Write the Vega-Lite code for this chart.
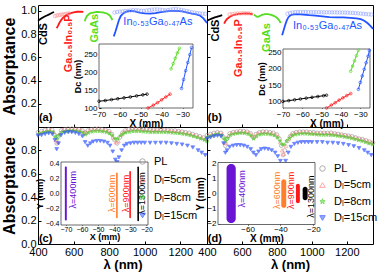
{
"$schema":"https://vega.github.io/schema/vega-lite/v6.json",
"padding":{"left":1,"top":4,"right":0,"bottom":0},
"columns":2,
"spacing":0,
"align":"each",
"bounds":"flush",
"config":{
 "font":"Liberation Sans, Noto Sans, DejaVu Sans",
 "view":{"stroke":"#000","strokeWidth":1},
 "axis":{"grid":false,"domain":false,"tickColor":"#000","labelColor":"#000","titleColor":"#000","labelFlush":false,"titleFontWeight":"bold","labelFont":"Liberation Sans, Noto Sans, DejaVu Sans","titleFont":"Liberation Sans, Noto Sans, DejaVu Sans"},
 "legend":{"labelFont":"Liberation Sans, Noto Sans, DejaVu Sans","labelFontSize":11,"labelColor":"#000"},
 "text":{"font":"Liberation Sans, Noto Sans, DejaVu Sans"}
},
"resolve":{"scale":{"color":"independent","fill":"independent","stroke":"independent","shape":"independent"}},
"datasets":{
 "topA":[
  {"m":"CdS","x":400,"y":0.915},{"m":"CdS","x":410,"y":0.925},{"m":"CdS","x":420,"y":0.935},{"m":"CdS","x":430,"y":0.945},{"m":"CdS","x":440,"y":0.953},{"m":"CdS","x":450,"y":0.96},{"m":"CdS","x":460,"y":0.967},{"m":"CdS","x":470,"y":0.975},{"m":"CdS","x":480,"y":0.983},{"m":"CdS","x":490,"y":0.99},
  {"m":"GaInP","x":505,"y":0.85},{"m":"GaInP","x":512,"y":0.87},{"m":"GaInP","x":520,"y":0.895},{"m":"GaInP","x":530,"y":0.92},{"m":"GaInP","x":540,"y":0.94},{"m":"GaInP","x":552,"y":0.955},{"m":"GaInP","x":565,"y":0.968},{"m":"GaInP","x":580,"y":0.978},{"m":"GaInP","x":600,"y":0.987},{"m":"GaInP","x":620,"y":0.992},{"m":"GaInP","x":640,"y":0.993},{"m":"GaInP","x":655,"y":0.99},
  {"m":"GaAs","x":663,"y":0.91},{"m":"GaAs","x":668,"y":0.935},{"m":"GaAs","x":675,"y":0.955},{"m":"GaAs","x":685,"y":0.97},{"m":"GaAs","x":695,"y":0.98},{"m":"GaAs","x":710,"y":0.985},{"m":"GaAs","x":730,"y":0.99},{"m":"GaAs","x":750,"y":0.988},{"m":"GaAs","x":770,"y":0.985},{"m":"GaAs","x":790,"y":0.975},{"m":"GaAs","x":803,"y":0.96},{"m":"GaAs","x":812,"y":0.94},{"m":"GaAs","x":818,"y":0.92},
  {"m":"InGaAs","x":826,"y":0.78},{"m":"InGaAs","x":835,"y":0.82},{"m":"InGaAs","x":845,"y":0.87},{"m":"InGaAs","x":855,"y":0.92},{"m":"InGaAs","x":865,"y":0.955},{"m":"InGaAs","x":880,"y":0.98},{"m":"InGaAs","x":900,"y":0.995},{"m":"InGaAs","x":920,"y":1.0},{"m":"InGaAs","x":945,"y":0.995},{"m":"InGaAs","x":970,"y":0.985},{"m":"InGaAs","x":1000,"y":0.978},{"m":"InGaAs","x":1030,"y":0.975},{"m":"InGaAs","x":1060,"y":0.98},{"m":"InGaAs","x":1090,"y":0.988},{"m":"InGaAs","x":1120,"y":0.995},{"m":"InGaAs","x":1150,"y":1.0},{"m":"InGaAs","x":1180,"y":1.0},{"m":"InGaAs","x":1210,"y":0.995},{"m":"InGaAs","x":1240,"y":0.985},{"m":"InGaAs","x":1265,"y":0.975},{"m":"InGaAs","x":1290,"y":0.97},{"m":"InGaAs","x":1310,"y":0.96},{"m":"InGaAs","x":1330,"y":0.935},{"m":"InGaAs","x":1350,"y":0.895}
 ],
 "topAc":[
  {"m":"GaInPc","x":495,"y":0.955},{"m":"GaInPc","x":505,"y":0.96},{"m":"GaInPc","x":515,"y":0.962},{"m":"GaInPc","x":525,"y":0.965},{"m":"GaInPc","x":535,"y":0.968},{"m":"GaInPc","x":545,"y":0.97},{"m":"GaInPc","x":555,"y":0.972},{"m":"GaInPc","x":565,"y":0.975},{"m":"GaInPc","x":575,"y":0.977},
  {"m":"InGaAsc","x":830,"y":0.985},{"m":"InGaAsc","x":845,"y":0.99},{"m":"InGaAsc","x":860,"y":0.993},{"m":"InGaAsc","x":875,"y":0.995},{"m":"InGaAsc","x":890,"y":0.998},{"m":"InGaAsc","x":905,"y":1.0},{"m":"InGaAsc","x":920,"y":1.003},{"m":"InGaAsc","x":935,"y":1.005},{"m":"InGaAsc","x":950,"y":1.005},{"m":"InGaAsc","x":965,"y":1.003},{"m":"InGaAsc","x":980,"y":1.0},{"m":"InGaAsc","x":995,"y":1.0},{"m":"InGaAsc","x":1010,"y":1.003},{"m":"InGaAsc","x":1025,"y":1.006},{"m":"InGaAsc","x":1040,"y":1.01},{"m":"InGaAsc","x":1055,"y":1.012},{"m":"InGaAsc","x":1070,"y":1.012},{"m":"InGaAsc","x":1085,"y":1.01},{"m":"InGaAsc","x":1100,"y":1.006},{"m":"InGaAsc","x":1115,"y":1.004},{"m":"InGaAsc","x":1130,"y":1.006},{"m":"InGaAsc","x":1145,"y":1.01},{"m":"InGaAsc","x":1160,"y":1.014},{"m":"InGaAsc","x":1175,"y":1.015},{"m":"InGaAsc","x":1190,"y":1.012},{"m":"InGaAsc","x":1205,"y":1.008},{"m":"InGaAsc","x":1220,"y":1.003},{"m":"InGaAsc","x":1235,"y":0.998},{"m":"InGaAsc","x":1250,"y":0.993},{"m":"InGaAsc","x":1265,"y":0.988},{"m":"InGaAsc","x":1280,"y":0.984},{"m":"InGaAsc","x":1295,"y":0.98},{"m":"InGaAsc","x":1310,"y":0.978},{"m":"InGaAsc","x":1325,"y":0.976},{"m":"InGaAsc","x":1340,"y":0.974}
 ],
 "labA":[
  {"m":"CdS","t":"CdS","x":434,"y":0.8},{"m":"GaInP","t":"Ga₀.₅In₀.₅P","x":577,"y":0.72},{"m":"GaAs","t":"GaAs","x":720,"y":0.85},{"m":"InGaAs","t":"In₀.₅₃Ga₀.₄₇As","x":1074,"y":0.9}
 ],
 "topB":[
  {"m":"CdS","x":400,"y":0.915},{"m":"CdS","x":415,"y":0.925},{"m":"CdS","x":430,"y":0.935},{"m":"CdS","x":445,"y":0.943},{"m":"CdS","x":460,"y":0.95},{"m":"CdS","x":475,"y":0.957},{"m":"CdS","x":487,"y":0.962},
  {"m":"GaInP","x":498,"y":0.89},{"m":"GaInP","x":505,"y":0.91},{"m":"GaInP","x":515,"y":0.93},{"m":"GaInP","x":527,"y":0.945},{"m":"GaInP","x":540,"y":0.957},{"m":"GaInP","x":555,"y":0.966},{"m":"GaInP","x":575,"y":0.972},{"m":"GaInP","x":600,"y":0.976},{"m":"GaInP","x":625,"y":0.977},{"m":"GaInP","x":645,"y":0.975},{"m":"GaInP","x":662,"y":0.97},
  {"m":"GaAs","x":668,"y":0.965},{"m":"GaAs","x":676,"y":0.96},{"m":"GaAs","x":685,"y":0.95},{"m":"GaAs","x":693,"y":0.948},{"m":"GaAs","x":702,"y":0.955},{"m":"GaAs","x":715,"y":0.965},{"m":"GaAs","x":732,"y":0.972},{"m":"GaAs","x":750,"y":0.972},{"m":"GaAs","x":768,"y":0.965},{"m":"GaAs","x":785,"y":0.955},{"m":"GaAs","x":800,"y":0.94},{"m":"GaAs","x":812,"y":0.92},{"m":"GaAs","x":822,"y":0.895},
  {"m":"InGaAs","x":830,"y":0.79},{"m":"InGaAs","x":838,"y":0.83},{"m":"InGaAs","x":847,"y":0.875},{"m":"InGaAs","x":856,"y":0.915},{"m":"InGaAs","x":866,"y":0.945},{"m":"InGaAs","x":878,"y":0.962},{"m":"InGaAs","x":895,"y":0.97},{"m":"InGaAs","x":920,"y":0.972},{"m":"InGaAs","x":950,"y":0.968},{"m":"InGaAs","x":985,"y":0.962},{"m":"InGaAs","x":1020,"y":0.958},{"m":"InGaAs","x":1060,"y":0.952},{"m":"InGaAs","x":1100,"y":0.946},{"m":"InGaAs","x":1140,"y":0.944},{"m":"InGaAs","x":1180,"y":0.944},{"m":"InGaAs","x":1220,"y":0.94},{"m":"InGaAs","x":1255,"y":0.935},{"m":"InGaAs","x":1280,"y":0.928},{"m":"InGaAs","x":1300,"y":0.915},{"m":"InGaAs","x":1318,"y":0.895},{"m":"InGaAs","x":1335,"y":0.87},{"m":"InGaAs","x":1350,"y":0.845}
 ],
 "topBc":[
  {"m":"GaInPc","x":530,"y":0.97},{"m":"GaInPc","x":545,"y":0.973},{"m":"GaInPc","x":560,"y":0.975},{"m":"GaInPc","x":575,"y":0.977},{"m":"GaInPc","x":590,"y":0.978},{"m":"GaInPc","x":605,"y":0.979},{"m":"GaInPc","x":620,"y":0.979},{"m":"GaInPc","x":635,"y":0.978},{"m":"GaInPc","x":650,"y":0.976},
  {"m":"InGaAsc","x":860,"y":0.975},{"m":"InGaAsc","x":875,"y":0.982},{"m":"InGaAsc","x":890,"y":0.986},{"m":"InGaAsc","x":905,"y":0.988},{"m":"InGaAsc","x":920,"y":0.99},{"m":"InGaAsc","x":935,"y":0.99},{"m":"InGaAsc","x":950,"y":0.99},{"m":"InGaAsc","x":965,"y":0.99},{"m":"InGaAsc","x":980,"y":0.989},{"m":"InGaAsc","x":995,"y":0.988},{"m":"InGaAsc","x":1010,"y":0.988},{"m":"InGaAsc","x":1025,"y":0.988},{"m":"InGaAsc","x":1040,"y":0.988},{"m":"InGaAsc","x":1055,"y":0.987},{"m":"InGaAsc","x":1070,"y":0.987},{"m":"InGaAsc","x":1085,"y":0.987},{"m":"InGaAsc","x":1100,"y":0.987},{"m":"InGaAsc","x":1115,"y":0.987},{"m":"InGaAsc","x":1130,"y":0.987},{"m":"InGaAsc","x":1145,"y":0.986},{"m":"InGaAsc","x":1160,"y":0.986},{"m":"InGaAsc","x":1175,"y":0.985},{"m":"InGaAsc","x":1190,"y":0.985},{"m":"InGaAsc","x":1205,"y":0.984},{"m":"InGaAsc","x":1220,"y":0.983},{"m":"InGaAsc","x":1235,"y":0.982},{"m":"InGaAsc","x":1250,"y":0.98},{"m":"InGaAsc","x":1265,"y":0.978},{"m":"InGaAsc","x":1280,"y":0.976},{"m":"InGaAsc","x":1295,"y":0.974},{"m":"InGaAsc","x":1310,"y":0.972},{"m":"InGaAsc","x":1325,"y":0.97},{"m":"InGaAsc","x":1340,"y":0.968}
 ],
 "labB":[
  {"m":"CdS","t":"CdS","x":452,"y":0.83},{"m":"GaInP","t":"Ga₀.₅In₀.₅P","x":585,"y":0.68},{"m":"GaAs","t":"GaAs","x":742,"y":0.77},{"m":"InGaAs","t":"In₀.₅₃Ga₀.₄₇As","x":1090,"y":0.87}
 ],
 "insA":[
  {"m":"CdS","X":-70,"D":119},{"m":"CdS","X":-67,"D":121},{"m":"CdS","X":-64,"D":123.5},{"m":"CdS","X":-61,"D":126},{"m":"CdS","X":-58,"D":128.5},{"m":"CdS","X":-55,"D":131},{"m":"CdS","X":-52,"D":134},{"m":"CdS","X":-49,"D":137},{"m":"CdS","X":-47,"D":139},
  {"m":"GaInP","X":-46.5,"D":100},{"m":"GaInP","X":-44,"D":108},{"m":"GaInP","X":-42,"D":115},{"m":"GaInP","X":-40,"D":123},{"m":"GaInP","X":-38,"D":131},{"m":"GaInP","X":-36,"D":139},
  {"m":"GaAs","X":-35.5,"D":210},{"m":"GaAs","X":-34.5,"D":225},{"m":"GaAs","X":-33.5,"D":240},{"m":"GaAs","X":-32.5,"D":255},{"m":"GaAs","X":-31.5,"D":268},
  {"m":"InGaAs","X":-30.5,"D":155},{"m":"InGaAs","X":-29.5,"D":180},{"m":"InGaAs","X":-28.5,"D":205},{"m":"InGaAs","X":-27.5,"D":228},{"m":"InGaAs","X":-26.5,"D":250},{"m":"InGaAs","X":-25.7,"D":270}
 ],
 "insB":[
  {"m":"CdS","X":-70,"D":100},{"m":"CdS","X":-67,"D":102.5},{"m":"CdS","X":-64,"D":105},{"m":"CdS","X":-61,"D":107.5},{"m":"CdS","X":-58,"D":110},{"m":"CdS","X":-55,"D":112.5},{"m":"CdS","X":-52,"D":115},{"m":"CdS","X":-49,"D":117.5},{"m":"CdS","X":-47.5,"D":119},
  {"m":"GaInP","X":-47.5,"D":80},{"m":"GaInP","X":-45,"D":89},{"m":"GaInP","X":-43,"D":96},{"m":"GaInP","X":-41,"D":104},{"m":"GaInP","X":-39,"D":111},{"m":"GaInP","X":-37,"D":118},{"m":"GaInP","X":-35,"D":124},
  {"m":"GaAs","X":-35,"D":192},{"m":"GaAs","X":-34,"D":208},{"m":"GaAs","X":-33,"D":224},{"m":"GaAs","X":-32,"D":240},{"m":"GaAs","X":-31,"D":256},
  {"m":"InGaAs","X":-31,"D":137},{"m":"InGaAs","X":-30,"D":158},{"m":"InGaAs","X":-29,"D":178},{"m":"InGaAs","X":-28,"D":198},{"m":"InGaAs","X":-27,"D":218},{"m":"InGaAs","X":-26,"D":238},{"m":"InGaAs","X":-25.3,"D":256}
 ],
 "botC":[
  {"s":"PL","x":400,"y":0.955},{"s":"PL","x":420,"y":0.965},{"s":"PL","x":440,"y":0.975},{"s":"PL","x":460,"y":0.98},{"s":"PL","x":480,"y":0.975},{"s":"PL","x":495,"y":0.93},{"s":"PL","x":505,"y":0.86},{"s":"PL","x":515,"y":0.92},{"s":"PL","x":530,"y":0.97},{"s":"PL","x":550,"y":0.98},{"s":"PL","x":570,"y":0.985},{"s":"PL","x":590,"y":0.985},{"s":"PL","x":610,"y":0.985},{"s":"PL","x":630,"y":0.98},{"s":"PL","x":650,"y":0.97},{"s":"PL","x":665,"y":0.95},{"s":"PL","x":680,"y":0.97},{"s":"PL","x":700,"y":0.98},{"s":"PL","x":720,"y":0.985},{"s":"PL","x":740,"y":0.985},{"s":"PL","x":760,"y":0.98},{"s":"PL","x":780,"y":0.975},{"s":"PL","x":800,"y":0.965},{"s":"PL","x":815,"y":0.94},{"s":"PL","x":830,"y":0.89},{"s":"PL","x":845,"y":0.86},{"s":"PL","x":860,"y":0.91},{"s":"PL","x":875,"y":0.95},{"s":"PL","x":890,"y":0.97},{"s":"PL","x":910,"y":0.98},{"s":"PL","x":930,"y":0.985},{"s":"PL","x":950,"y":0.985},{"s":"PL","x":970,"y":0.985},{"s":"PL","x":990,"y":0.98},{"s":"PL","x":1010,"y":0.98},{"s":"PL","x":1030,"y":0.975},{"s":"PL","x":1050,"y":0.975},{"s":"PL","x":1070,"y":0.975},{"s":"PL","x":1090,"y":0.975},{"s":"PL","x":1110,"y":0.975},{"s":"PL","x":1130,"y":0.975},{"s":"PL","x":1150,"y":0.97},{"s":"PL","x":1170,"y":0.97},{"s":"PL","x":1190,"y":0.965},{"s":"PL","x":1210,"y":0.96},{"s":"PL","x":1230,"y":0.955},{"s":"PL","x":1250,"y":0.95},{"s":"PL","x":1270,"y":0.94},{"s":"PL","x":1290,"y":0.93},{"s":"PL","x":1310,"y":0.92},{"s":"PL","x":1330,"y":0.91},{"s":"PL","x":1350,"y":0.895},
  {"s":"5cm","x":408,"y":0.95},{"s":"5cm","x":428,"y":0.96},{"s":"5cm","x":448,"y":0.97},{"s":"5cm","x":468,"y":0.975},{"s":"5cm","x":488,"y":0.96},{"s":"5cm","x":500,"y":0.89},{"s":"5cm","x":510,"y":0.87},{"s":"5cm","x":522,"y":0.945},{"s":"5cm","x":540,"y":0.975},{"s":"5cm","x":560,"y":0.98},{"s":"5cm","x":580,"y":0.982},{"s":"5cm","x":600,"y":0.982},{"s":"5cm","x":620,"y":0.98},{"s":"5cm","x":640,"y":0.975},{"s":"5cm","x":658,"y":0.955},{"s":"5cm","x":672,"y":0.955},{"s":"5cm","x":690,"y":0.975},{"s":"5cm","x":710,"y":0.98},{"s":"5cm","x":730,"y":0.982},{"s":"5cm","x":750,"y":0.98},{"s":"5cm","x":770,"y":0.975},{"s":"5cm","x":790,"y":0.97},{"s":"5cm","x":808,"y":0.95},{"s":"5cm","x":822,"y":0.91},{"s":"5cm","x":838,"y":0.87},{"s":"5cm","x":852,"y":0.88},{"s":"5cm","x":868,"y":0.935},{"s":"5cm","x":883,"y":0.96},{"s":"5cm","x":900,"y":0.972},{"s":"5cm","x":920,"y":0.98},{"s":"5cm","x":940,"y":0.982},{"s":"5cm","x":960,"y":0.982},{"s":"5cm","x":980,"y":0.98},{"s":"5cm","x":1000,"y":0.978},{"s":"5cm","x":1020,"y":0.975},{"s":"5cm","x":1040,"y":0.972},{"s":"5cm","x":1060,"y":0.972},{"s":"5cm","x":1080,"y":0.972},{"s":"5cm","x":1100,"y":0.972},{"s":"5cm","x":1120,"y":0.972},{"s":"5cm","x":1140,"y":0.97},{"s":"5cm","x":1160,"y":0.967},{"s":"5cm","x":1180,"y":0.965},{"s":"5cm","x":1200,"y":0.96},{"s":"5cm","x":1220,"y":0.955},{"s":"5cm","x":1240,"y":0.948},{"s":"5cm","x":1260,"y":0.94},{"s":"5cm","x":1280,"y":0.93},{"s":"5cm","x":1300,"y":0.92},{"s":"5cm","x":1320,"y":0.91},{"s":"5cm","x":1340,"y":0.898},
  {"s":"8cm","x":404,"y":0.94},{"s":"8cm","x":424,"y":0.95},{"s":"8cm","x":444,"y":0.958},{"s":"8cm","x":464,"y":0.962},{"s":"8cm","x":484,"y":0.955},{"s":"8cm","x":498,"y":0.92},{"s":"8cm","x":508,"y":0.9},{"s":"8cm","x":518,"y":0.93},{"s":"8cm","x":534,"y":0.955},{"s":"8cm","x":554,"y":0.962},{"s":"8cm","x":574,"y":0.966},{"s":"8cm","x":594,"y":0.966},{"s":"8cm","x":614,"y":0.964},{"s":"8cm","x":634,"y":0.96},{"s":"8cm","x":652,"y":0.95},{"s":"8cm","x":667,"y":0.935},{"s":"8cm","x":684,"y":0.95},{"s":"8cm","x":704,"y":0.96},{"s":"8cm","x":724,"y":0.964},{"s":"8cm","x":744,"y":0.964},{"s":"8cm","x":764,"y":0.96},{"s":"8cm","x":784,"y":0.955},{"s":"8cm","x":802,"y":0.945},{"s":"8cm","x":818,"y":0.925},{"s":"8cm","x":833,"y":0.9},{"s":"8cm","x":848,"y":0.9},{"s":"8cm","x":863,"y":0.925},{"s":"8cm","x":878,"y":0.94},{"s":"8cm","x":894,"y":0.952},{"s":"8cm","x":914,"y":0.958},{"s":"8cm","x":934,"y":0.962},{"s":"8cm","x":954,"y":0.962},{"s":"8cm","x":974,"y":0.962},{"s":"8cm","x":994,"y":0.96},{"s":"8cm","x":1014,"y":0.958},{"s":"8cm","x":1034,"y":0.955},{"s":"8cm","x":1054,"y":0.955},{"s":"8cm","x":1074,"y":0.955},{"s":"8cm","x":1094,"y":0.955},{"s":"8cm","x":1114,"y":0.955},{"s":"8cm","x":1134,"y":0.953},{"s":"8cm","x":1154,"y":0.95},{"s":"8cm","x":1174,"y":0.948},{"s":"8cm","x":1194,"y":0.945},{"s":"8cm","x":1214,"y":0.94},{"s":"8cm","x":1234,"y":0.935},{"s":"8cm","x":1254,"y":0.93},{"s":"8cm","x":1274,"y":0.92},{"s":"8cm","x":1294,"y":0.91},{"s":"8cm","x":1314,"y":0.9},{"s":"8cm","x":1334,"y":0.89},{"s":"8cm","x":1350,"y":0.875},
  {"s":"15cm","x":400,"y":0.925},{"s":"15cm","x":420,"y":0.93},{"s":"15cm","x":440,"y":0.94},{"s":"15cm","x":460,"y":0.945},{"s":"15cm","x":480,"y":0.94},{"s":"15cm","x":495,"y":0.89},{"s":"15cm","x":505,"y":0.81},{"s":"15cm","x":515,"y":0.86},{"s":"15cm","x":530,"y":0.93},{"s":"15cm","x":550,"y":0.95},{"s":"15cm","x":570,"y":0.955},{"s":"15cm","x":590,"y":0.955},{"s":"15cm","x":610,"y":0.95},{"s":"15cm","x":630,"y":0.94},{"s":"15cm","x":650,"y":0.92},{"s":"15cm","x":665,"y":0.87},{"s":"15cm","x":680,"y":0.84},{"s":"15cm","x":695,"y":0.86},{"s":"15cm","x":710,"y":0.875},{"s":"15cm","x":730,"y":0.88},{"s":"15cm","x":750,"y":0.88},{"s":"15cm","x":770,"y":0.875},{"s":"15cm","x":790,"y":0.865},{"s":"15cm","x":805,"y":0.84},{"s":"15cm","x":820,"y":0.79},{"s":"15cm","x":835,"y":0.72},{"s":"15cm","x":845,"y":0.7},{"s":"15cm","x":855,"y":0.74},{"s":"15cm","x":870,"y":0.8},{"s":"15cm","x":885,"y":0.84},{"s":"15cm","x":900,"y":0.855},{"s":"15cm","x":920,"y":0.86},{"s":"15cm","x":940,"y":0.865},{"s":"15cm","x":960,"y":0.865},{"s":"15cm","x":980,"y":0.865},{"s":"15cm","x":1000,"y":0.865},{"s":"15cm","x":1030,"y":0.865},{"s":"15cm","x":1060,"y":0.865},{"s":"15cm","x":1090,"y":0.865},{"s":"15cm","x":1120,"y":0.865},{"s":"15cm","x":1150,"y":0.86},{"s":"15cm","x":1180,"y":0.855},{"s":"15cm","x":1210,"y":0.85},{"s":"15cm","x":1240,"y":0.84},{"s":"15cm","x":1270,"y":0.825},{"s":"15cm","x":1300,"y":0.8},{"s":"15cm","x":1320,"y":0.78},{"s":"15cm","x":1340,"y":0.76}
 ],
 "botD":[
  {"s":"PL","x":400,"y":0.93},{"s":"PL","x":420,"y":0.94},{"s":"PL","x":440,"y":0.95},{"s":"PL","x":460,"y":0.955},{"s":"PL","x":480,"y":0.95},{"s":"PL","x":495,"y":0.91},{"s":"PL","x":505,"y":0.84},{"s":"PL","x":515,"y":0.9},{"s":"PL","x":530,"y":0.945},{"s":"PL","x":550,"y":0.955},{"s":"PL","x":570,"y":0.96},{"s":"PL","x":590,"y":0.965},{"s":"PL","x":610,"y":0.965},{"s":"PL","x":630,"y":0.96},{"s":"PL","x":650,"y":0.945},{"s":"PL","x":665,"y":0.91},{"s":"PL","x":680,"y":0.94},{"s":"PL","x":700,"y":0.955},{"s":"PL","x":720,"y":0.96},{"s":"PL","x":740,"y":0.96},{"s":"PL","x":760,"y":0.955},{"s":"PL","x":780,"y":0.95},{"s":"PL","x":800,"y":0.935},{"s":"PL","x":815,"y":0.9},{"s":"PL","x":825,"y":0.84},{"s":"PL","x":835,"y":0.76},{"s":"PL","x":845,"y":0.8},{"s":"PL","x":860,"y":0.88},{"s":"PL","x":875,"y":0.92},{"s":"PL","x":890,"y":0.945},{"s":"PL","x":910,"y":0.955},{"s":"PL","x":930,"y":0.96},{"s":"PL","x":950,"y":0.96},{"s":"PL","x":970,"y":0.96},{"s":"PL","x":990,"y":0.955},{"s":"PL","x":1010,"y":0.955},{"s":"PL","x":1030,"y":0.95},{"s":"PL","x":1050,"y":0.95},{"s":"PL","x":1070,"y":0.95},{"s":"PL","x":1090,"y":0.95},{"s":"PL","x":1110,"y":0.95},{"s":"PL","x":1130,"y":0.945},{"s":"PL","x":1150,"y":0.94},{"s":"PL","x":1170,"y":0.935},{"s":"PL","x":1190,"y":0.93},{"s":"PL","x":1210,"y":0.925},{"s":"PL","x":1230,"y":0.92},{"s":"PL","x":1250,"y":0.91},{"s":"PL","x":1270,"y":0.9},{"s":"PL","x":1290,"y":0.895},{"s":"PL","x":1310,"y":0.885},{"s":"PL","x":1330,"y":0.875},{"s":"PL","x":1350,"y":0.865},
  {"s":"5cm","x":408,"y":0.925},{"s":"5cm","x":428,"y":0.935},{"s":"5cm","x":448,"y":0.945},{"s":"5cm","x":468,"y":0.95},{"s":"5cm","x":488,"y":0.94},{"s":"5cm","x":500,"y":0.87},{"s":"5cm","x":510,"y":0.86},{"s":"5cm","x":522,"y":0.925},{"s":"5cm","x":540,"y":0.95},{"s":"5cm","x":560,"y":0.955},{"s":"5cm","x":580,"y":0.96},{"s":"5cm","x":600,"y":0.962},{"s":"5cm","x":620,"y":0.96},{"s":"5cm","x":640,"y":0.955},{"s":"5cm","x":658,"y":0.93},{"s":"5cm","x":672,"y":0.92},{"s":"5cm","x":690,"y":0.95},{"s":"5cm","x":710,"y":0.955},{"s":"5cm","x":730,"y":0.958},{"s":"5cm","x":750,"y":0.955},{"s":"5cm","x":770,"y":0.95},{"s":"5cm","x":790,"y":0.94},{"s":"5cm","x":808,"y":0.92},{"s":"5cm","x":820,"y":0.87},{"s":"5cm","x":830,"y":0.8},{"s":"5cm","x":840,"y":0.77},{"s":"5cm","x":852,"y":0.84},{"s":"5cm","x":868,"y":0.9},{"s":"5cm","x":883,"y":0.935},{"s":"5cm","x":900,"y":0.95},{"s":"5cm","x":920,"y":0.955},{"s":"5cm","x":940,"y":0.958},{"s":"5cm","x":960,"y":0.958},{"s":"5cm","x":980,"y":0.955},{"s":"5cm","x":1000,"y":0.952},{"s":"5cm","x":1020,"y":0.95},{"s":"5cm","x":1040,"y":0.948},{"s":"5cm","x":1060,"y":0.948},{"s":"5cm","x":1080,"y":0.948},{"s":"5cm","x":1100,"y":0.946},{"s":"5cm","x":1120,"y":0.945},{"s":"5cm","x":1140,"y":0.94},{"s":"5cm","x":1160,"y":0.936},{"s":"5cm","x":1180,"y":0.932},{"s":"5cm","x":1200,"y":0.927},{"s":"5cm","x":1220,"y":0.92},{"s":"5cm","x":1240,"y":0.912},{"s":"5cm","x":1260,"y":0.905},{"s":"5cm","x":1280,"y":0.897},{"s":"5cm","x":1300,"y":0.89},{"s":"5cm","x":1320,"y":0.88},{"s":"5cm","x":1340,"y":0.87},
  {"s":"8cm","x":404,"y":0.915},{"s":"8cm","x":424,"y":0.925},{"s":"8cm","x":444,"y":0.932},{"s":"8cm","x":464,"y":0.938},{"s":"8cm","x":484,"y":0.93},{"s":"8cm","x":498,"y":0.9},{"s":"8cm","x":508,"y":0.88},{"s":"8cm","x":518,"y":0.905},{"s":"8cm","x":534,"y":0.93},{"s":"8cm","x":554,"y":0.94},{"s":"8cm","x":574,"y":0.945},{"s":"8cm","x":594,"y":0.948},{"s":"8cm","x":614,"y":0.946},{"s":"8cm","x":634,"y":0.94},{"s":"8cm","x":652,"y":0.925},{"s":"8cm","x":667,"y":0.9},{"s":"8cm","x":684,"y":0.92},{"s":"8cm","x":704,"y":0.935},{"s":"8cm","x":724,"y":0.94},{"s":"8cm","x":744,"y":0.94},{"s":"8cm","x":764,"y":0.935},{"s":"8cm","x":784,"y":0.928},{"s":"8cm","x":802,"y":0.91},{"s":"8cm","x":818,"y":0.88},{"s":"8cm","x":830,"y":0.85},{"s":"8cm","x":842,"y":0.85},{"s":"8cm","x":856,"y":0.88},{"s":"8cm","x":872,"y":0.905},{"s":"8cm","x":888,"y":0.925},{"s":"8cm","x":906,"y":0.935},{"s":"8cm","x":926,"y":0.94},{"s":"8cm","x":946,"y":0.942},{"s":"8cm","x":966,"y":0.942},{"s":"8cm","x":986,"y":0.94},{"s":"8cm","x":1006,"y":0.938},{"s":"8cm","x":1026,"y":0.935},{"s":"8cm","x":1046,"y":0.933},{"s":"8cm","x":1066,"y":0.932},{"s":"8cm","x":1086,"y":0.932},{"s":"8cm","x":1106,"y":0.93},{"s":"8cm","x":1126,"y":0.928},{"s":"8cm","x":1146,"y":0.924},{"s":"8cm","x":1166,"y":0.92},{"s":"8cm","x":1186,"y":0.915},{"s":"8cm","x":1206,"y":0.91},{"s":"8cm","x":1226,"y":0.903},{"s":"8cm","x":1246,"y":0.895},{"s":"8cm","x":1266,"y":0.887},{"s":"8cm","x":1286,"y":0.88},{"s":"8cm","x":1306,"y":0.87},{"s":"8cm","x":1326,"y":0.86},{"s":"8cm","x":1346,"y":0.85},
  {"s":"15cm","x":400,"y":0.9},{"s":"15cm","x":420,"y":0.91},{"s":"15cm","x":440,"y":0.92},{"s":"15cm","x":460,"y":0.925},{"s":"15cm","x":480,"y":0.92},{"s":"15cm","x":495,"y":0.86},{"s":"15cm","x":505,"y":0.78},{"s":"15cm","x":515,"y":0.8},{"s":"15cm","x":530,"y":0.83},{"s":"15cm","x":550,"y":0.84},{"s":"15cm","x":570,"y":0.845},{"s":"15cm","x":590,"y":0.845},{"s":"15cm","x":610,"y":0.84},{"s":"15cm","x":630,"y":0.83},{"s":"15cm","x":650,"y":0.81},{"s":"15cm","x":665,"y":0.78},{"s":"15cm","x":680,"y":0.76},{"s":"15cm","x":695,"y":0.79},{"s":"15cm","x":710,"y":0.81},{"s":"15cm","x":730,"y":0.815},{"s":"15cm","x":750,"y":0.81},{"s":"15cm","x":770,"y":0.8},{"s":"15cm","x":790,"y":0.78},{"s":"15cm","x":805,"y":0.75},{"s":"15cm","x":820,"y":0.71},{"s":"15cm","x":835,"y":0.67},{"s":"15cm","x":850,"y":0.71},{"s":"15cm","x":865,"y":0.78},{"s":"15cm","x":880,"y":0.83},{"s":"15cm","x":900,"y":0.855},{"s":"15cm","x":920,"y":0.865},{"s":"15cm","x":940,"y":0.87},{"s":"15cm","x":960,"y":0.87},{"s":"15cm","x":980,"y":0.87},{"s":"15cm","x":1000,"y":0.87},{"s":"15cm","x":1030,"y":0.87},{"s":"15cm","x":1060,"y":0.87},{"s":"15cm","x":1090,"y":0.865},{"s":"15cm","x":1120,"y":0.865},{"s":"15cm","x":1150,"y":0.86},{"s":"15cm","x":1180,"y":0.855},{"s":"15cm","x":1210,"y":0.845},{"s":"15cm","x":1240,"y":0.835},{"s":"15cm","x":1270,"y":0.82},{"s":"15cm","x":1300,"y":0.8},{"s":"15cm","x":1320,"y":0.78},{"s":"15cm","x":1340,"y":0.76}
 ],
 "ellC":[
  {"w":"400","x0":-70.6,"x1":-69.4,"y0":-0.36,"y1":0.36},
  {"w":"600","x0":-38.8,"x1":-37.8,"y0":-0.33,"y1":0.28},
  {"w":"900","x0":-30.6,"x1":-29.6,"y0":-0.33,"y1":0.3},
  {"w":"1300","x0":-25.6,"x1":-24.6,"y0":-0.37,"y1":0.36}
 ],
 "lamC":[
  {"w":"400","t":"λ=400nm","X":-65.5,"Y":0.05},{"w":"600","t":"λ=600nm","X":-41.5,"Y":0.0},{"w":"900","t":"λ=900nm","X":-32.5,"Y":0.0},{"w":"1300","t":"λ=1300nm","X":-22.5,"Y":0.0}
 ],
 "ellD":[
  {"w":"400","x0":-72.8,"x1":-67.2,"y0":-1.95,"y1":1.95},
  {"w":"600","x0":-39.5,"x1":-36.5,"y0":-0.95,"y1":0.95},
  {"w":"900","x0":-30.6,"x1":-28.2,"y0":-0.65,"y1":0.65},
  {"w":"1300","x0":-26.5,"x1":-23.5,"y0":-0.45,"y1":0.45}
 ],
 "lamD":[
  {"w":"400","t":"λ=400nm","X":-63.5,"Y":0.3},{"w":"600","t":"λ=600nm","X":-42.3,"Y":0.2},{"w":"900","t":"λ=900nm","X":-33.5,"Y":0.2},{"w":"1300","t":"λ=1300nm","X":-21.5,"Y":-0.2}
 ]
},
"concat":[
 {
  "width":169,"height":122,
  "layer":[
   {
    "encoding":{
     "x":{"field":"x","type":"quantitative","scale":{"domain":[400,1350],"nice":false,"zero":false},"axis":{"labels":false,"title":null,"tickSize":-3,"values":[400,600,800,1000,1200]}},
     "y":{"field":"y","type":"quantitative","scale":{"domain":[0,1.05],"nice":false,"zero":false},"axis":{"values":[0.2,0.4,0.6,0.8,1.0],"format":".1f","title":"Absorptance","titleFontSize":16,"labelFontSize":11,"tickSize":-3,"labelPadding":5,"titlePadding":3}}
    },
    "layer":[
     {"data":{"name":"topA"},"mark":{"type":"line","strokeWidth":1.8},"encoding":{"color":{"field":"m","type":"nominal","scale":{"domain":["CdS","GaInP","GaAs","InGaAs","GaInPc","InGaAsc"],"range":["#000000","#ff1a1a","#55dd22","#2255ff","#ff8a8a","#8a9cff"]},"legend":null}}},
     {"data":{"name":"topAc"},"mark":{"type":"point","filled":false,"size":12,"strokeWidth":0.8},"encoding":{"color":{"field":"m","type":"nominal","scale":{"domain":["CdS","GaInP","GaAs","InGaAs","GaInPc","InGaAsc"],"range":["#000000","#ff1a1a","#55dd22","#2255ff","#ff8a8a","#8a9cff"]},"legend":null}}},
     {"data":{"name":"labA"},"transform":[{"filter":"datum.m != 'InGaAs'"}],"mark":{"type":"text","angle":270,"fontSize":11,"fontWeight":"bold"},"encoding":{"text":{"field":"t"},"color":{"field":"m","type":"nominal","scale":{"domain":["CdS","GaInP","GaAs","InGaAs","GaInPc","InGaAsc"],"range":["#000000","#ff1a1a","#55dd22","#2255ff","#ff8a8a","#8a9cff"]},"legend":null}}},
     {"data":{"name":"labA"},"transform":[{"filter":"datum.m == 'InGaAs'"}],"mark":{"type":"text","fontSize":11},"encoding":{"text":{"field":"t"},"color":{"field":"m","type":"nominal","scale":{"domain":["CdS","GaInP","GaAs","InGaAs","GaInPc","InGaAsc"],"range":["#000000","#ff1a1a","#55dd22","#2255ff","#ff8a8a","#8a9cff"]},"legend":null}}},
     {"data":{"values":[{"t":"(a)","x":405,"y":0.075}]},"mark":{"type":"text","align":"left","fontSize":11,"fontWeight":"bold"},"encoding":{"text":{"field":"t"}}}
    ]
   },
   {
    "layer":[
     {"data":{"values":[{}]},"mark":{"type":"rect","fill":"#ffffff","stroke":"#444444","strokeWidth":0.8},
      "encoding":{
       "x":{"datum":-70,"type":"quantitative","scale":{"domain":[-70,-25],"range":[61,155],"nice":false,"zero":false},"axis":{"orient":"bottom","offset":-19,"values":[-70,-60,-50,-40,-30],"title":"X (mm)","labelFontSize":8,"titleFontSize":10,"tickSize":-2,"labelPadding":4,"titlePadding":0}},
       "x2":{"datum":-25},
       "y":{"datum":100,"type":"quantitative","scale":{"domain":[100,280],"range":[103,39],"nice":false,"zero":false},"axis":{"orient":"left","offset":-61,"values":[100,150,200,250],"title":"Dc (nm)","labelFontSize":8,"titleFontSize":9,"tickSize":-2,"labelPadding":4,"titlePadding":1}},
       "y2":{"datum":280}
      }},
     {"data":{"name":"insA"},"mark":{"type":"line","strokeWidth":1,"point":{"filled":false,"size":7,"strokeWidth":0.7}},
      "encoding":{
       "x":{"field":"X","type":"quantitative","scale":{"domain":[-70,-25],"range":[61,155],"nice":false,"zero":false},"axis":{"orient":"bottom","offset":-19,"values":[-70,-60,-50,-40,-30],"title":"X (mm)","labelFontSize":8,"titleFontSize":10,"tickSize":-2,"labelPadding":4,"titlePadding":0}},
       "y":{"field":"D","type":"quantitative","scale":{"domain":[100,280],"range":[103,39],"nice":false,"zero":false},"axis":{"orient":"left","offset":-61,"values":[100,150,200,250],"title":"Dc (nm)","labelFontSize":8,"titleFontSize":9,"tickSize":-2,"labelPadding":4,"titlePadding":1}},
       "color":{"field":"m","type":"nominal","scale":{"domain":["CdS","GaInP","GaAs","InGaAs"],"range":["#000000","#ff1a1a","#55dd22","#2255ff"]},"legend":null}
      }}
    ]
   }
  ],
  "resolve":{"scale":{"x":"independent","y":"independent","color":"independent"}}
 },
 {
  "width":166,"height":122,
  "layer":[
   {
    "encoding":{
     "x":{"field":"x","type":"quantitative","scale":{"domain":[400,1350],"nice":false,"zero":false},"axis":{"labels":false,"title":null,"tickSize":-3,"values":[400,600,800,1000,1200]}},
     "y":{"field":"y","type":"quantitative","scale":{"domain":[0,1.05],"nice":false,"zero":false},"axis":{"values":[0.2,0.4,0.6,0.8,1.0],"labels":false,"title":null,"tickSize":-3}}
    },
    "layer":[
     {"data":{"name":"topB"},"mark":{"type":"line","strokeWidth":1.8},"encoding":{"color":{"field":"m","type":"nominal","scale":{"domain":["CdS","GaInP","GaAs","InGaAs","GaInPc","InGaAsc"],"range":["#000000","#ff1a1a","#55dd22","#2255ff","#ff8a8a","#8a9cff"]},"legend":null}}},
     {"data":{"name":"topBc"},"mark":{"type":"point","filled":false,"size":12,"strokeWidth":0.8},"encoding":{"color":{"field":"m","type":"nominal","scale":{"domain":["CdS","GaInP","GaAs","InGaAs","GaInPc","InGaAsc"],"range":["#000000","#ff1a1a","#55dd22","#2255ff","#ff8a8a","#8a9cff"]},"legend":null}}},
     {"data":{"name":"labB"},"transform":[{"filter":"datum.m != 'InGaAs'"}],"mark":{"type":"text","angle":270,"fontSize":11,"fontWeight":"bold"},"encoding":{"text":{"field":"t"},"color":{"field":"m","type":"nominal","scale":{"domain":["CdS","GaInP","GaAs","InGaAs","GaInPc","InGaAsc"],"range":["#000000","#ff1a1a","#55dd22","#2255ff","#ff8a8a","#8a9cff"]},"legend":null}}},
     {"data":{"name":"labB"},"transform":[{"filter":"datum.m == 'InGaAs'"}],"mark":{"type":"text","fontSize":11},"encoding":{"text":{"field":"t"},"color":{"field":"m","type":"nominal","scale":{"domain":["CdS","GaInP","GaAs","InGaAs","GaInPc","InGaAsc"],"range":["#000000","#ff1a1a","#55dd22","#2255ff","#ff8a8a","#8a9cff"]},"legend":null}}},
     {"data":{"values":[{"t":"(b)","x":405,"y":0.075}]},"mark":{"type":"text","align":"left","fontSize":11,"fontWeight":"bold"},"encoding":{"text":{"field":"t"}}}
    ]
   },
   {
    "layer":[
     {"data":{"values":[{}]},"mark":{"type":"rect","fill":"#ffffff","stroke":"#444444","strokeWidth":0.8},
      "encoding":{
       "x":{"datum":-70,"type":"quantitative","scale":{"domain":[-70,-25],"range":[76,163],"nice":false,"zero":false},"axis":{"orient":"bottom","offset":-19,"values":[-70,-60,-50,-40,-30],"title":"X (mm)","labelFontSize":8,"titleFontSize":10,"tickSize":-2,"labelPadding":4,"titlePadding":0}},
       "x2":{"datum":-25},
       "y":{"datum":80,"type":"quantitative","scale":{"domain":[80,260],"range":[103,44],"nice":false,"zero":false},"axis":{"orient":"left","offset":-76,"values":[100,150,200,250],"title":"Dc (nm)","labelFontSize":8,"titleFontSize":9,"tickSize":-2,"labelPadding":4,"titlePadding":1}},
       "y2":{"datum":260}
      }},
     {"data":{"name":"insB"},"mark":{"type":"line","strokeWidth":1,"point":{"filled":false,"size":7,"strokeWidth":0.7}},
      "encoding":{
       "x":{"field":"X","type":"quantitative","scale":{"domain":[-70,-25],"range":[76,163],"nice":false,"zero":false},"axis":{"orient":"bottom","offset":-19,"values":[-70,-60,-50,-40,-30],"title":"X (mm)","labelFontSize":8,"titleFontSize":10,"tickSize":-2,"labelPadding":4,"titlePadding":0}},
       "y":{"field":"D","type":"quantitative","scale":{"domain":[80,260],"range":[103,44],"nice":false,"zero":false},"axis":{"orient":"left","offset":-76,"values":[100,150,200,250],"title":"Dc (nm)","labelFontSize":8,"titleFontSize":9,"tickSize":-2,"labelPadding":4,"titlePadding":1}},
       "color":{"field":"m","type":"nominal","scale":{"domain":["CdS","GaInP","GaAs","InGaAs"],"range":["#000000","#ff1a1a","#55dd22","#2255ff"]},"legend":null}
      }}
    ]
   }
  ],
  "resolve":{"scale":{"x":"independent","y":"independent","color":"independent"}}
 },
 {
  "width":169,"height":117,
  "layer":[
   {
    "encoding":{
     "x":{"field":"x","type":"quantitative","scale":{"domain":[400,1350],"nice":false,"zero":false},"axis":{"values":[400,600,800,1000,1200],"format":"d","title":"λ (nm)","titleFontSize":13,"labelFontSize":11,"tickSize":-3,"labelPadding":5,"titlePadding":1}},
     "y":{"field":"y","type":"quantitative","scale":{"domain":[0,1],"nice":false,"zero":false},"axis":{"values":[0,0.2,0.4,0.6,0.8],"format":".1f","title":"Absorptance","titleFontSize":16,"labelFontSize":11,"tickSize":-3,"labelPadding":5,"titlePadding":3}}
    },
    "layer":[
     {"data":{"name":"botC"},"mark":{"type":"point","filled":true,"size":14,"strokeWidth":0.8},
      "encoding":{
       "shape":{"field":"s","type":"nominal","scale":{"domain":["PL","5cm","8cm","15cm"],"range":["circle","triangle-up","M0,-1L0.24,-0.33L0.95,-0.31L0.38,0.12L0.59,0.81L0,0.4L-0.59,0.81L-0.38,0.12L-0.95,-0.31L-0.24,-0.33Z","triangle-down"]},"legend":{"orient":"none","legendX":99,"legendY":29,"title":null,"rowPadding":6,"labelFontSize":11,"symbolSize":30,"symbolStrokeWidth":1,"labelOffset":6,"labelExpr":"datum.label == 'PL' ? 'PL' : 'Dₗ=' + datum.label"}},
       "stroke":{"field":"s","type":"nominal","scale":{"domain":["PL","5cm","8cm","15cm"],"range":["#8c8c8c","#ff7f7f","#44cc22","#2b50ff"]},"legend":{"orient":"none","legendX":99,"legendY":29,"title":null,"rowPadding":6,"labelFontSize":11,"symbolSize":30,"symbolStrokeWidth":1,"labelOffset":6,"labelExpr":"datum.label == 'PL' ? 'PL' : 'Dₗ=' + datum.label"}},
       "fill":{"field":"s","type":"nominal","scale":{"domain":["PL","5cm","8cm","15cm"],"range":["transparent","transparent","#44cc22","#2b50ff"]},"legend":{"orient":"none","legendX":99,"legendY":29,"title":null,"rowPadding":6,"labelFontSize":11,"symbolSize":30,"symbolStrokeWidth":1,"labelOffset":6,"labelExpr":"datum.label == 'PL' ? 'PL' : 'Dₗ=' + datum.label"}}
      }},
     {"data":{"values":[{"t":"(c)","x":405,"y":0.045}]},"mark":{"type":"text","align":"left","fontSize":11,"fontWeight":"bold"},"encoding":{"text":{"field":"t"}}}
    ]
   },
   {
    "layer":[
     {"data":{"values":[{}]},"mark":{"type":"rect","fill":"#ffffff","stroke":"#444444","strokeWidth":0.8},
      "encoding":{
       "x":{"datum":-73,"type":"quantitative","scale":{"domain":[-73,-19],"range":[23,110],"nice":false,"zero":false},"axis":{"orient":"bottom","offset":-19,"values":[-70,-60,-50,-40,-30,-20],"title":"X (mm)","labelFontSize":7,"titleFontSize":9,"tickSize":-2,"labelPadding":2,"titlePadding":0}},
       "x2":{"datum":-19},
       "y":{"datum":-0.42,"type":"quantitative","scale":{"domain":[-0.42,0.42],"range":[98,35],"nice":false,"zero":false},"axis":{"orient":"left","offset":-23,"values":[-0.4,-0.2,0,0.2,0.4],"format":".1f","title":"Y (mm)","labelFontSize":7,"titleFontSize":9,"tickSize":-2,"labelPadding":4,"titlePadding":1}},
       "y2":{"datum":0.42}
      }},
     {"data":{"name":"ellC"},"mark":{"type":"rect","cornerRadius":30},
      "encoding":{
       "x":{"field":"x0","type":"quantitative","scale":{"domain":[-73,-19],"range":[23,110],"nice":false,"zero":false},"axis":{"orient":"bottom","offset":-19,"values":[-70,-60,-50,-40,-30,-20],"title":"X (mm)","labelFontSize":7,"titleFontSize":9,"tickSize":-2,"labelPadding":2,"titlePadding":0}},
       "x2":{"field":"x1"},
       "y":{"field":"y0","type":"quantitative","scale":{"domain":[-0.42,0.42],"range":[98,35],"nice":false,"zero":false},"axis":{"orient":"left","offset":-23,"values":[-0.4,-0.2,0,0.2,0.4],"format":".1f","title":"Y (mm)","labelFontSize":7,"titleFontSize":9,"tickSize":-2,"labelPadding":4,"titlePadding":1}},
       "y2":{"field":"y1"},
       "color":{"field":"w","type":"nominal","scale":{"domain":["400","600","900","1300"],"range":["#6a14d4","#ff7f2a","#ff1a1a","#000000"]},"legend":null}
      }},
     {"data":{"name":"lamC"},"mark":{"type":"text","angle":270,"fontSize":9},
      "encoding":{
       "x":{"field":"X","type":"quantitative","scale":{"domain":[-73,-19],"range":[23,110],"nice":false,"zero":false},"axis":{"orient":"bottom","offset":-19,"values":[-70,-60,-50,-40,-30,-20],"title":"X (mm)","labelFontSize":7,"titleFontSize":9,"tickSize":-2,"labelPadding":2,"titlePadding":0}},
       "y":{"field":"Y","type":"quantitative","scale":{"domain":[-0.42,0.42],"range":[98,35],"nice":false,"zero":false},"axis":{"orient":"left","offset":-23,"values":[-0.4,-0.2,0,0.2,0.4],"format":".1f","title":"Y (mm)","labelFontSize":7,"titleFontSize":9,"tickSize":-2,"labelPadding":4,"titlePadding":1}},
       "text":{"field":"t"},
       "color":{"field":"w","type":"nominal","scale":{"domain":["400","600","900","1300"],"range":["#6a14d4","#ff7f2a","#ff1a1a","#000000"]},"legend":null}
      }}
    ]
   }
  ],
  "resolve":{"scale":{"x":"independent","y":"independent","color":"independent"}}
 },
 {
  "width":166,"height":117,
  "layer":[
   {
    "encoding":{
     "x":{"field":"x","type":"quantitative","scale":{"domain":[400,1350],"nice":false,"zero":false},"axis":{"values":[400,600,800,1000,1200],"format":"d","title":"λ (nm)","titleFontSize":13,"labelFontSize":11,"tickSize":-3,"labelPadding":5,"titlePadding":1}},
     "y":{"field":"y","type":"quantitative","scale":{"domain":[0,1],"nice":false,"zero":false},"axis":{"values":[0,0.2,0.4,0.6,0.8],"labels":false,"title":null,"tickSize":-3}}
    },
    "layer":[
     {"data":{"name":"botD"},"mark":{"type":"point","filled":true,"size":14,"strokeWidth":0.8},
      "encoding":{
       "shape":{"field":"s","type":"nominal","scale":{"domain":["PL","5cm","8cm","15cm"],"range":["circle","triangle-up","M0,-1L0.24,-0.33L0.95,-0.31L0.38,0.12L0.59,0.81L0,0.4L-0.59,0.81L-0.38,0.12L-0.95,-0.31L-0.24,-0.33Z","triangle-down"]},"legend":{"orient":"none","legendX":110,"legendY":36,"title":null,"rowPadding":4.5,"labelFontSize":11,"symbolSize":30,"symbolStrokeWidth":1,"labelOffset":6,"labelExpr":"datum.label == 'PL' ? 'PL' : 'Dₗ=' + datum.label"}},
       "stroke":{"field":"s","type":"nominal","scale":{"domain":["PL","5cm","8cm","15cm"],"range":["#8c8c8c","#ff7f7f","#44cc22","#2b50ff"]},"legend":{"orient":"none","legendX":110,"legendY":36,"title":null,"rowPadding":4.5,"labelFontSize":11,"symbolSize":30,"symbolStrokeWidth":1,"labelOffset":6,"labelExpr":"datum.label == 'PL' ? 'PL' : 'Dₗ=' + datum.label"}},
       "fill":{"field":"s","type":"nominal","scale":{"domain":["PL","5cm","8cm","15cm"],"range":["transparent","transparent","#44cc22","#2b50ff"]},"legend":{"orient":"none","legendX":110,"legendY":36,"title":null,"rowPadding":4.5,"labelFontSize":11,"symbolSize":30,"symbolStrokeWidth":1,"labelOffset":6,"labelExpr":"datum.label == 'PL' ? 'PL' : 'Dₗ=' + datum.label"}}
      }},
     {"data":{"values":[{"t":"(d)","x":405,"y":0.045}]},"mark":{"type":"text","align":"left","fontSize":11,"fontWeight":"bold"},"encoding":{"text":{"field":"t"}}}
    ]
   },
   {
    "layer":[
     {"data":{"values":[{}]},"mark":{"type":"rect","fill":"#ffffff","stroke":"#444444","strokeWidth":0.8},
      "encoding":{
       "x":{"datum":-78,"type":"quantitative","scale":{"domain":[-78,-19],"range":[11,108],"nice":false,"zero":false},"axis":{"orient":"bottom","offset":-19,"values":[-60,-40,-20],"title":"X (mm)","labelFontSize":8,"titleFontSize":10,"tickSize":-2,"labelPadding":2,"titlePadding":0}},
       "x2":{"datum":-19},
       "y":{"datum":-2.05,"type":"quantitative","scale":{"domain":[-2.05,2.05],"range":[97.5,35.5],"nice":false,"zero":false},"axis":{"orient":"left","offset":-11,"values":[-2,-1,0,1,2],"title":"Y (mm)","labelFontSize":8,"titleFontSize":10,"tickSize":-2,"labelPadding":4,"titlePadding":1}},
       "y2":{"datum":2.05}
      }},
     {"data":{"name":"ellD"},"mark":{"type":"rect","cornerRadius":30},
      "encoding":{
       "x":{"field":"x0","type":"quantitative","scale":{"domain":[-78,-19],"range":[11,108],"nice":false,"zero":false},"axis":{"orient":"bottom","offset":-19,"values":[-60,-40,-20],"title":"X (mm)","labelFontSize":8,"titleFontSize":10,"tickSize":-2,"labelPadding":2,"titlePadding":0}},
       "x2":{"field":"x1"},
       "y":{"field":"y0","type":"quantitative","scale":{"domain":[-2.05,2.05],"range":[97.5,35.5],"nice":false,"zero":false},"axis":{"orient":"left","offset":-11,"values":[-2,-1,0,1,2],"title":"Y (mm)","labelFontSize":8,"titleFontSize":10,"tickSize":-2,"labelPadding":4,"titlePadding":1}},
       "y2":{"field":"y1"},
       "color":{"field":"w","type":"nominal","scale":{"domain":["400","600","900","1300"],"range":["#6a14d4","#ff7f2a","#ff1a1a","#000000"]},"legend":null}
      }},
     {"data":{"name":"lamD"},"mark":{"type":"text","angle":270,"fontSize":9},
      "encoding":{
       "x":{"field":"X","type":"quantitative","scale":{"domain":[-78,-19],"range":[11,108],"nice":false,"zero":false},"axis":{"orient":"bottom","offset":-19,"values":[-60,-40,-20],"title":"X (mm)","labelFontSize":8,"titleFontSize":10,"tickSize":-2,"labelPadding":2,"titlePadding":0}},
       "y":{"field":"Y","type":"quantitative","scale":{"domain":[-2.05,2.05],"range":[97.5,35.5],"nice":false,"zero":false},"axis":{"orient":"left","offset":-11,"values":[-2,-1,0,1,2],"title":"Y (mm)","labelFontSize":8,"titleFontSize":10,"tickSize":-2,"labelPadding":4,"titlePadding":1}},
       "text":{"field":"t"},
       "color":{"field":"w","type":"nominal","scale":{"domain":["400","600","900","1300"],"range":["#6a14d4","#ff7f2a","#ff1a1a","#000000"]},"legend":null}
      }}
    ]
   }
  ],
  "resolve":{"scale":{"x":"independent","y":"independent","color":"independent"}}
 }
]
}
